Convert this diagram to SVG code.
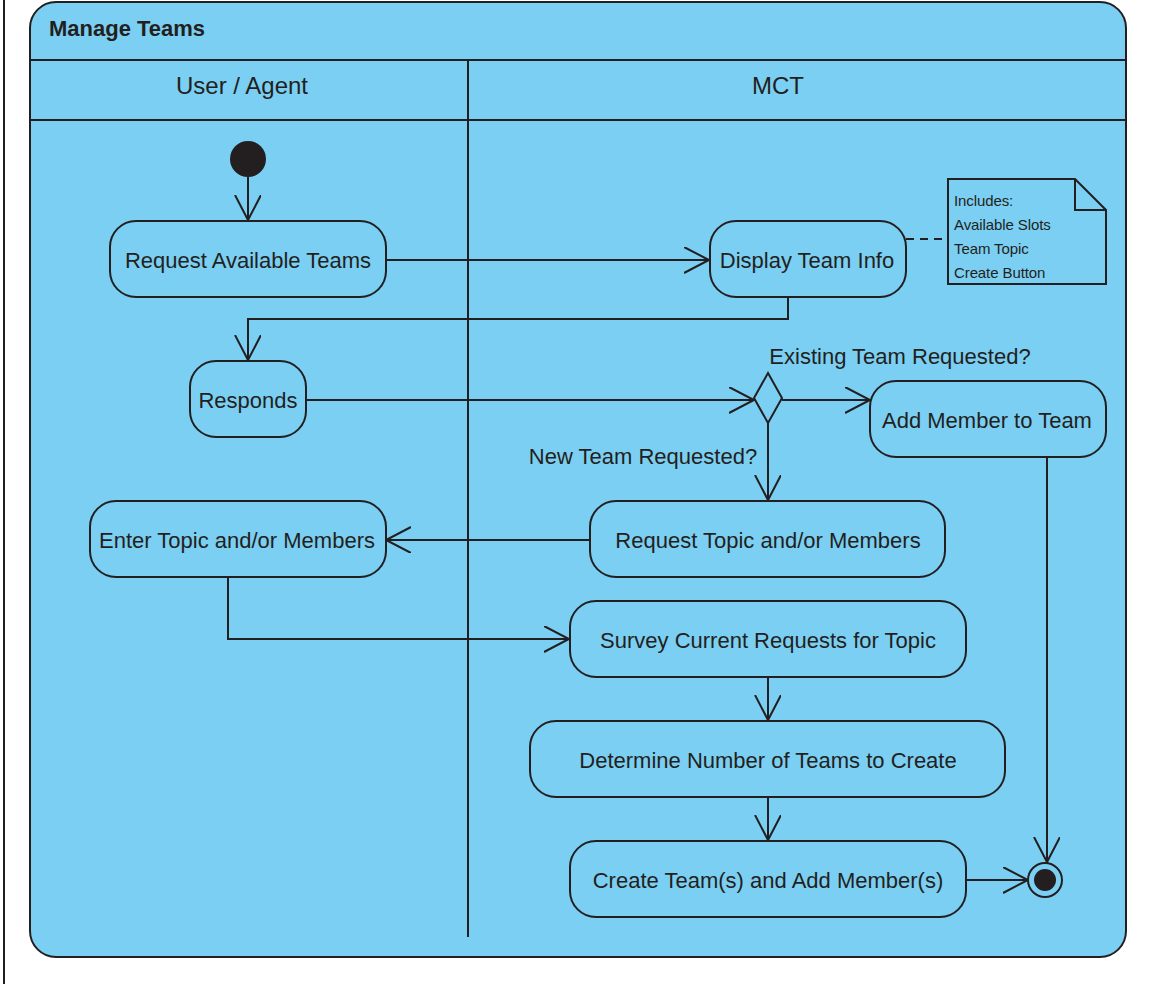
<svg xmlns="http://www.w3.org/2000/svg" width="1152" height="984" viewBox="0 0 1152 984">
<style>
.ln{stroke:#231f20;stroke-width:2;fill:none}
.nd{fill:#7acff3;stroke:#231f20;stroke-width:2}
.t{font-family:"Liberation Sans",Arial,sans-serif;font-size:22px;fill:#231f20;text-anchor:middle}
.nt{font-family:"Liberation Sans",Arial,sans-serif;font-size:15px;fill:#231f20;letter-spacing:-0.1px}
</style>
<defs>
<marker id="ah" markerUnits="userSpaceOnUse" markerWidth="30" markerHeight="30" refX="25" refY="13" orient="auto" viewBox="0 0 30 30">
<polyline points="0,0 25,13 0,26" fill="none" stroke="#231f20" stroke-width="2"/>
</marker>
</defs>
<rect x="0" y="0" width="1152" height="984" fill="#ffffff"/>
<line x1="4" y1="0" x2="4" y2="984" class="ln"/>
<g id="frame">
<rect x="30" y="2" width="1096" height="955" rx="26" ry="26" class="nd"/>
<line x1="30" y1="60" x2="1126" y2="60" class="ln"/>
<line x1="30" y1="120" x2="1126" y2="120" class="ln"/>
<line x1="468" y1="60" x2="468" y2="937" class="ln"/>
<text x="49" y="36" style="font-family:'Liberation Sans',Arial,sans-serif;font-size:22px;font-weight:bold;fill:#231f20">Manage Teams</text>
<text x="242" y="94" class="t" style="font-size:24px">User / Agent</text>
<text x="778" y="94" class="t" style="font-size:24px">MCT</text>
</g>
<g id="connectors">
<line x1="248" y1="177" x2="248" y2="220" class="ln" marker-end="url(#ah)"/>
<line x1="386" y1="260" x2="709" y2="260" class="ln" marker-end="url(#ah)"/>
<polyline points="788,297 788,319 248,319 248,360" class="ln" marker-end="url(#ah)"/>
<line x1="306" y1="400" x2="754" y2="400" class="ln" marker-end="url(#ah)"/>
<line x1="782" y1="400" x2="870" y2="400" class="ln" marker-end="url(#ah)"/>
<line x1="768" y1="423" x2="768" y2="500" class="ln" marker-end="url(#ah)"/>
<line x1="590" y1="540" x2="386" y2="540" class="ln" marker-end="url(#ah)"/>
<polyline points="228,577 228,639 569,639" class="ln" marker-end="url(#ah)"/>
<line x1="768" y1="677" x2="768" y2="720" class="ln" marker-end="url(#ah)"/>
<line x1="768" y1="797" x2="768" y2="840" class="ln" marker-end="url(#ah)"/>
<line x1="966" y1="880" x2="1028" y2="880" class="ln" marker-end="url(#ah)"/>
<line x1="1047" y1="457" x2="1047" y2="862" class="ln" marker-end="url(#ah)"/>
<line x1="906" y1="239" x2="948" y2="239" class="ln" stroke-dasharray="8,6"/>
<text x="900" y="364" class="t">Existing Team Requested?</text>
<text x="643" y="464" class="t">New Team Requested?</text>
</g>
<g id="initial"><circle cx="248" cy="159" r="18" fill="#231f20"/></g>
<g id="request-available-teams">
<rect x="110" y="221" width="276" height="76" rx="26" class="nd"/>
<text x="248" y="268" class="t">Request Available Teams</text>
</g>
<g id="display-team-info">
<rect x="710" y="221" width="196" height="76" rx="26" class="nd"/>
<text x="807" y="268" class="t">Display Team Info</text>
</g>
<g id="note">
<polygon points="948,179 1075,179 1106,210 1106,284 948,284" class="nd"/>
<polyline points="1075,179 1075,210 1106,210" class="ln"/>
<text x="954" y="206" class="nt">Includes:</text>
<text x="954" y="230" class="nt">Available Slots</text>
<text x="954" y="254" class="nt">Team Topic</text>
<text x="954" y="278" class="nt">Create Button</text>
</g>
<g id="responds">
<rect x="190" y="361" width="116" height="76" rx="26" class="nd"/>
<text x="248" y="408" class="t">Responds</text>
</g>
<g id="decision">
<polygon points="768,373 782,398 768,423 754,398" class="nd"/>
</g>
<g id="add-member">
<rect x="870" y="381" width="236" height="76" rx="26" class="nd"/>
<text x="987" y="428" class="t">Add Member to Team</text>
</g>
<g id="request-topic">
<rect x="590" y="501" width="355" height="76" rx="26" class="nd"/>
<text x="768" y="548" class="t">Request Topic and/or Members</text>
</g>
<g id="enter-topic">
<rect x="90" y="501" width="296" height="76" rx="26" class="nd"/>
<text x="237" y="548" class="t">Enter Topic and/or Members</text>
</g>
<g id="survey">
<rect x="570" y="601" width="396" height="76" rx="26" class="nd"/>
<text x="768" y="648" class="t">Survey Current Requests for Topic</text>
</g>
<g id="determine">
<rect x="530" y="721" width="475" height="76" rx="26" class="nd"/>
<text x="768" y="768" class="t">Determine Number of Teams to Create</text>
</g>
<g id="create">
<rect x="570" y="841" width="396" height="76" rx="26" class="nd"/>
<text x="768" y="888" class="t">Create Team(s) and Add Member(s)</text>
</g>
<g id="final">
<circle cx="1045" cy="880" r="17" class="nd"/>
<circle cx="1045" cy="880" r="11" fill="#231f20"/>
</g>
</svg>
